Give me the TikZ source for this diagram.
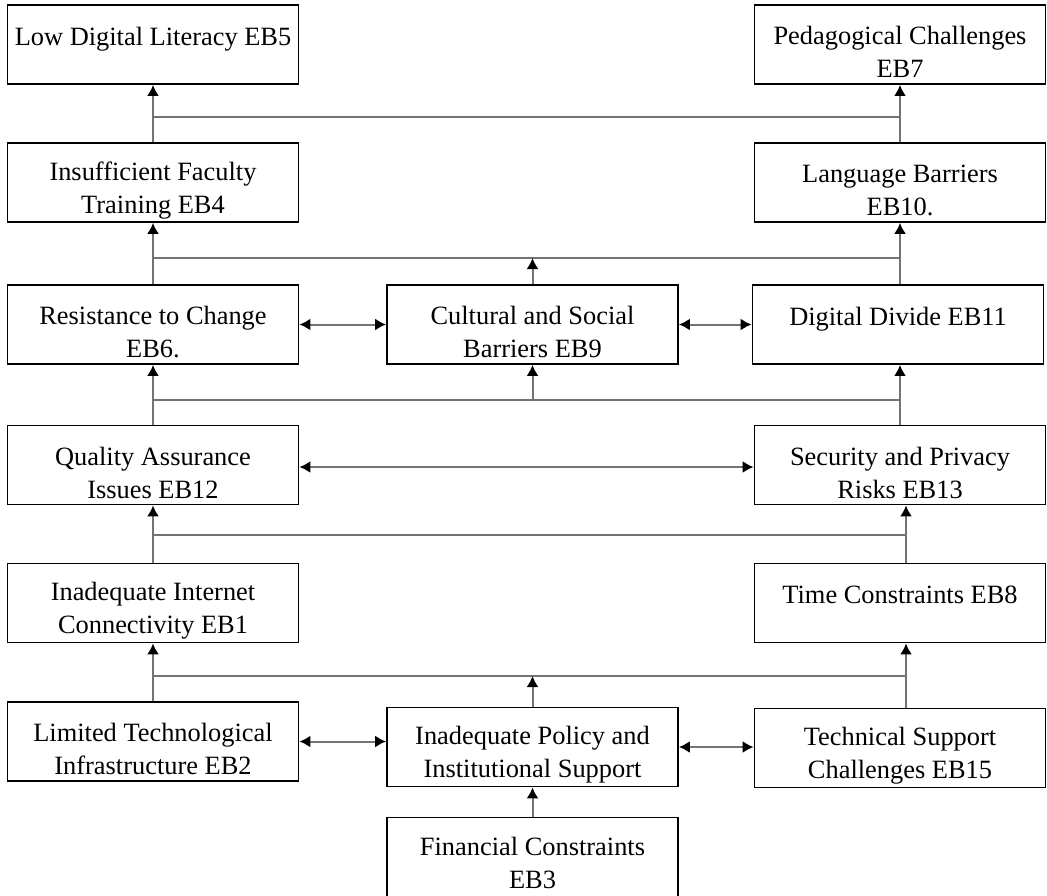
\documentclass[tikz,border=0pt]{standalone}
\usepackage{fontspec}
\setmainfont{Liberation Serif}
\usetikzlibrary{arrows.meta}
\newcommand\topgap{\rule{0pt}{17pt}}

\begin{document}
\begin{tikzpicture}[x=0.5pt, y=-0.5pt,
        barrier/.style={draw, line width=0.9pt, minimum width=145.5pt, minimum height=39.5pt, inner xsep=2pt, inner ysep=0pt, align=center, font=\fontsize{13.2}{16.5}\selectfont},
        link/.style={draw=black!55, line width=1pt},
        tiplink/.style={link, -{Latex[length=5.5pt, width=6pt, color=black]}},
        bothlink/.style={link, {Latex[length=5.5pt, width=6pt, color=black]}-{Latex[length=5.5pt, width=6pt, color=black]}}]
    \path[fill=white, use as bounding box] (0,0) rectangle (1047,895);
    \node[barrier] (eb5) at (153,44.5) {\topgap Low Digital Literacy EB5\\\mbox{}};
    \node[barrier] (eb7) at (900,44.5) {\topgap Pedagogical Challenges\\EB7};
    \node[barrier] (eb4) at (153,182.5) {\topgap Insufficient Faculty\\Training EB4};
    \node[barrier] (eb10) at (900,182.5) {\topgap Language Barriers\\EB10.};
    \node[barrier] (eb6) at (153,324.5) {\topgap Resistance to Change\\EB6.};
    \node[barrier] (eb9) at (532.5,324.5) {\topgap Cultural and Social\\Barriers EB9};
    \node[barrier] (eb11) at (898,324.5) {\topgap Digital Divide EB11\\\mbox{}};
    \node[barrier] (eb12) at (153,465) {\topgap Quality Assurance\\Issues EB12};
    \node[barrier] (eb13) at (900,465) {\topgap Security and Privacy\\Risks EB13};
    \node[barrier] (eb1) at (153,603) {\topgap Inadequate Internet\\Connectivity EB1};
    \node[barrier] (eb8) at (900,603) {\topgap Time Constraints EB8\\\mbox{}};
    \node[barrier] (eb2) at (153,741.5) {\topgap Limited Technological\\Infrastructure EB2};
    \node[barrier] (policy) at (532.5,747) {\topgap Inadequate Policy and\\Institutional Support};
    \node[barrier] (eb15) at (900,748) {\topgap Technical Support\\Challenges EB15};
    \node[barrier] (eb3) at (532.5,857) {\rule{0pt}{15pt}Financial Constraints\\EB3};

    \coordinate (bus1) at (0,117);
    \coordinate (bus2) at (0,258);
    \coordinate (bus3) at (0,400);
    \coordinate (bus4) at (0,535);
    \coordinate (bus5) at (0,676);

    \draw[tiplink] (eb4.north) -- (eb5.south);
    \draw[tiplink] (eb10.north) -- (eb7.south);
    \draw[link] (eb4.north |- bus1) -- (eb10.north |- bus1);

    \draw[tiplink] (eb6.north) -- (eb4.south);
    \draw[tiplink] (eb10.south |- eb11.north) -- (eb10.south);
    \draw[link] (eb6.north |- bus2) -- (eb10.south |- bus2);
    \draw[tiplink] (eb9.north) -- (eb9.north |- bus2);
    \draw[bothlink] (eb6.east) -- (eb9.west);
    \draw[bothlink] (eb9.east) -- (eb11.west);

    \draw[tiplink] (eb12.north) -- (eb6.south);
    \draw[tiplink] (eb13.north) -- (eb13.north |- eb11.south);
    \draw[link] (eb12.north |- bus3) -- (eb13.north |- bus3);
    \draw[tiplink] (eb9.south |- bus3) -- (eb9.south);
    \draw[bothlink] ([yshift=-1pt]eb12.east) -- ([yshift=-1pt]eb13.west);

    \draw[tiplink] (eb1.north) -- (eb12.south);
    \draw[tiplink] ([xshift=3pt]eb8.north) -- ([xshift=3pt]eb13.south);
    \draw[link] (eb1.north |- bus4) -- ([xshift=3pt]eb8.north |- bus4);

    \draw[tiplink] (eb2.north) -- (eb1.south);
    \draw[tiplink] ([xshift=3pt]eb15.north) -- ([xshift=3pt]eb8.south);
    \draw[link] (eb2.north |- bus5) -- ([xshift=3pt]eb15.north |- bus5);
    \draw[tiplink] (policy.north) -- (policy.north |- bus5);
    \draw[bothlink] (eb2.east) -- (eb2.east -| policy.west);
    \draw[bothlink] (policy.east) -- (policy.east -| eb15.west);
    \draw[tiplink] (eb3.north) -- (policy.south);
\end{tikzpicture}
\end{document}
